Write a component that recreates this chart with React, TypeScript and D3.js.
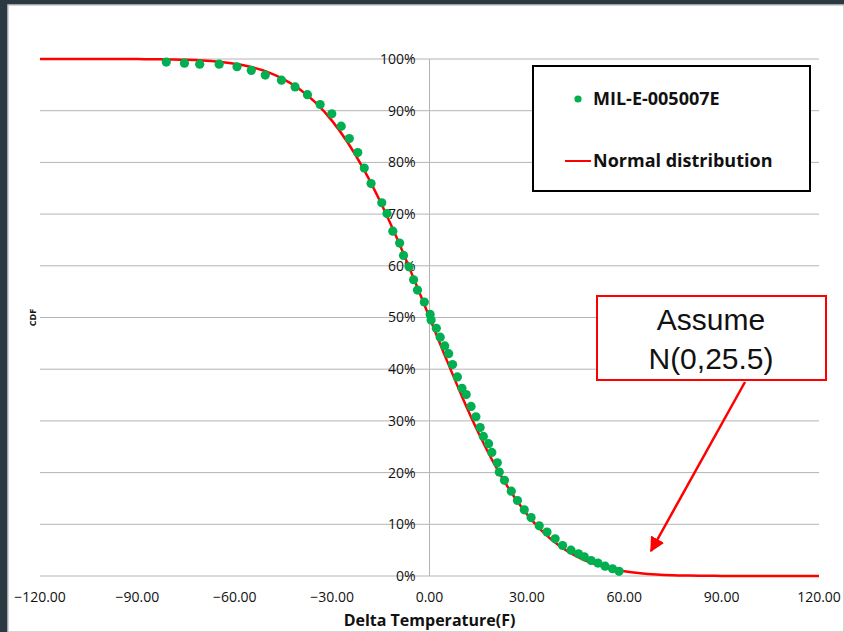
import React from "react";
import * as d3 from "d3";

// measured points (Delta temperature F, CDF)
const testTemps = [
  -81.1, -75.5, -70.8, -64.8, -59.3, -54.9, -50.6, -45.6, -41.4, -37.6, -33.7, -30.1, -27.2, -24.7, -22.1, -20.1,
  -18.0, -14.7, -13.1, -11.3, -9.2, -8.0, -6.3, -4.9, -3.7, -1.6, 0.2, 0.5, 2.1, 3.3, 4.7, 5.9, 7.1, 8.6, 10.0,
  11.3, 12.8, 14.3, 15.6, 16.6, 18.2, 19.2, 20.9, 21.5, 23.1, 25.2, 27.1, 29.2, 31.3, 33.8, 36.2, 38.7, 41.0, 43.6,
  45.9, 47.7, 49.8, 51.9, 54.1, 56.4, 58.4,
];
const testCdf = [
  0.994, 0.992, 0.990, 0.990, 0.985, 0.978, 0.969, 0.959, 0.946, 0.931, 0.912, 0.894, 0.870, 0.846, 0.819, 0.789,
  0.759, 0.722, 0.701, 0.667, 0.644, 0.620, 0.598, 0.573, 0.553, 0.530, 0.506, 0.495, 0.479, 0.462, 0.445, 0.430,
  0.409, 0.385, 0.363, 0.351, 0.328, 0.308, 0.287, 0.270, 0.256, 0.239, 0.219, 0.201, 0.185, 0.164, 0.146, 0.128,
  0.113, 0.097, 0.085, 0.072, 0.059, 0.050, 0.043, 0.037, 0.030, 0.025, 0.019, 0.014, 0.009,
];

// normal distribution curve
const curveTemps = [
  -120, -110, -100, -90, -85, -80, -75, -70, -65, -60, -55, -50, -45, -40, -35, -30, -25, -20, -15, -10, -5, 0, 5,
  10, 15, 20, 25, 30, 35, 40, 45, 50, 55, 60, 65, 70, 75, 80, 85, 90, 100, 110, 120,
];
const curveCdf = [
  1.0, 1.0, 1.0, 0.9998, 0.9996, 0.9991, 0.9984, 0.997, 0.9946, 0.9907, 0.9845, 0.9751, 0.9612, 0.9416, 0.9151,
  0.8803, 0.8365, 0.7836, 0.7218, 0.6526, 0.5777, 0.5, 0.4223, 0.3474, 0.2782, 0.2164, 0.1635, 0.1197, 0.0849,
  0.0584, 0.0388, 0.0249, 0.0155, 0.0093, 0.0054, 0.003, 0.0016, 0.0009, 0.0004, 0.0002, 0.0, 0.0, 0.0,
];

const xTicks = [-120, -90, -60, -30, 0, 30, 60, 90, 120];
const yTicks = [0, 0.1, 0.2, 0.3, 0.4, 0.5, 0.6, 0.7, 0.8, 0.9, 1.0];

const seriesName = "MIL-E-005007E";
const curveName = "Normal distribution";
const note = ["Assume", "N(0,25.5)"];

export default function App() {
  const width = 844;
  const height = 632;
  const marginLeft = 40;
  const marginRight = 25;
  const marginTop = 59;
  const marginBottom = 56;

  const x = d3.scaleLinear().domain([-120, 120]).range([marginLeft, width - marginRight]);
  const y = d3.scaleLinear().domain([0, 1]).range([height - marginBottom, marginTop]);

  const line = d3
    .line<number>()
    .x((d, i) => x(curveTemps[i]))
    .y((d) => y(d))
    .curve(d3.curveMonotoneX);

  const font = "'Open Sans', 'Noto Sans', sans-serif";

  return (
    <svg width={width} height={height} style={{ position: "absolute", left: 0, top: 0 }}>
      <rect width={width} height={height} fill="#2b3a42" />
      <rect x={8} y={5} width={width - 8} height={height - 5} fill="white" stroke="#c8c8c8" strokeWidth={1.5} />

      {/* grid */}
      <g stroke="#b4b4b4" strokeWidth="1">
        {yTicks.map((t) => (
          <line key={t} x1={x(-120)} x2={x(120)} y1={y(t)} y2={y(t)} />
        ))}
        <line x1={x(0)} x2={x(0)} y1={y(1)} y2={y(0)} />
      </g>

      <g fontFamily={font} fontSize="14" fill="#111">
        {yTicks.map((t) => (
          <text key={t} x={x(0) - 14} y={y(t)} dy="0.35em" textAnchor="end">
            {d3.format(".0%")(t)}
          </text>
        ))}
        {xTicks.map((t) => (
          <text key={t} x={x(t)} y={y(0) + 26} textAnchor="middle">
            {d3.format(".2f")(t)}
          </text>
        ))}
      </g>

      <text x={x(0)} y={626} textAnchor="middle" fontFamily={font} fontWeight="bold" fontSize="16" fill="#111">
        Delta Temperature(F)
      </text>
      <text
        transform={`translate(36,${(y(0) + y(1)) / 2}) rotate(-90)`}
        textAnchor="middle"
        fontFamily={font}
        fontSize="9"
        fontWeight="bold"
        fill="#111"
      >
        CDF
      </text>

      <path d={line(curveCdf) || ""} fill="none" stroke="#ff0000" strokeWidth="2.5" />

      <g fill="#00b050">
        {testTemps.map((t, i) => (
          <circle key={i} cx={x(t)} cy={y(testCdf[i])} r={4.6} />
        ))}
      </g>

      {/* legend */}
      <rect x={533} y={66} width={277} height={125} fill="white" stroke="#000" strokeWidth="2" />
      <circle cx={578} cy={99} r={3.6} fill="#00b050" />
      <text x={593} y={99} dy="0.35em" fontFamily={font} fontWeight="bold" fontSize="18" fill="#111">
        {seriesName}
      </text>
      <line x1={565} x2={591} y1={161} y2={161} stroke="#ff0000" strokeWidth="2" />
      <text x={593} y={161} dy="0.35em" fontFamily={font} fontWeight="bold" fontSize="18" fill="#111">
        {curveName}
      </text>

      {/* annotation */}
      <defs>
        <marker id="arr" viewBox="0 0 10 10" refX="9" refY="5" markerWidth="6" markerHeight="6" orient="auto">
          <path d="M0,0 L10,5 L0,10 z" fill="#ff0000" />
        </marker>
      </defs>
      <line x1={745} y1={382} x2={651} y2={551} stroke="#ff0000" strokeWidth="2.5" markerEnd="url(#arr)" />
      <rect x={597} y={296} width={229} height={84} fill="white" stroke="#ff0000" strokeWidth="2" />
      <g fontFamily="'Liberation Sans', Arial, sans-serif" fontSize="30" fill="#111" textAnchor="middle">
        <text x={711} y={330}>{note[0]}</text>
        <text x={711} y={369}>{note[1]}</text>
      </g>
    </svg>
  );
}
